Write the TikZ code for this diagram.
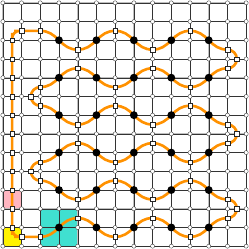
\documentclass[tikz,border=0pt]{standalone}
\usetikzlibrary{backgrounds}

\definecolor{snakeorange}{RGB}{255,145,0}
\definecolor{tealfill}{RGB}{64,224,208}
\definecolor{tealedge}{RGB}{30,140,128}
\definecolor{pinkfill}{RGB}{255,182,193}

\begin{document}
\begin{tikzpicture}[
            site/.style={circle, draw=black!85, fill=white, line width=0.5pt,
                         inner sep=0pt, minimum size=0.22cm},
            hub/.style={circle, fill=black, inner sep=0pt, minimum size=0.42cm},
            mid/.style={rectangle, draw=black!85, fill=white, line width=0.5pt,
                        inner sep=0pt, minimum size=0.24cm},
            gline/.style={gray!50, line width=1.4pt},
            dline/.style={black!80, line width=0.5pt},
            snake/.style={snakeorange, line width=4pt},
            turn/.style={snake, rounded corners=0.4cm}
        ]
        \useasboundingbox (-0.15, 0.15) rectangle (13.15, -13.15);

        % lattice sites, black hubs on odd columns / even rows
        \foreach \i in {0,...,13}
            \foreach \j in {0,...,13} {
                \pgfmathtruncatemacro{\isb}{(mod(\i,2)==1)*(\i>2)*(\i<12)*(mod(\j,2)==0)*(\j>1)*(\j<13)}
                \ifnum\isb=1
                    \node[hub] (v-\i-\j) at (\i, -\j) {};
                \else
                    \node[site] (v-\i-\j) at (\i, -\j) {};
                \fi
            }

        % squares on the wavy rows
        \foreach \y in {4,8,...,24}
            \foreach \x in {4,8,...,24} {
                \pgfmathtruncatemacro{\sy}{\y + (mod(\y/4,2)==1 ? 1 : -1)*(mod(\x,8)==0 ? 1 : -1)}
                \node[mid] (s-\x-\sy) at (\x/2, -\sy/2) {};
            }

        % squares on the turns and the left column
        \foreach \y in {4,6,...,24}
            \node[mid] (s-1-\y) at (0.5, -\y/2) {};
        \foreach \x/\y in {2/3, 2/25, 25/6, 25/14, 25/22, 3/10, 3/18}
            \node[mid] (s-\x-\y) at (\x/2, -\y/2) {};

        \begin{scope}[on background layer]
            % coloured cells
            \fill[yellow, draw=black!80, line width=0.6pt] (v-0-12.center) rectangle (v-1-13.center);
            \fill[pinkfill, draw=gray!70, line width=0.6pt] (v-0-10.center) rectangle (v-1-11.center);
            \fill[tealfill, draw=tealedge, line width=0.6pt] (v-2-11.center) rectangle (v-4-13.center);

            % grid
            \foreach \k in {0,...,13} {
                \draw[gline] (v-0-\k.center) -- (v-13-\k.center);
                \draw[gline] (v-\k-0.center) -- (v-\k-13.center);
            }
            \foreach \k in {0,...,13} {
                \draw[dline] (v-0-\k.center) -- (v-13-\k.center);
                \draw[dline] (v-\k-0.center) -- (v-\k-13.center);
            }

            % wavy rows
            \foreach \y in {4,8,...,24}
                \foreach \x in {4,8,...,20} {
                    \pgfmathtruncatemacro{\sg}{(mod(\y/4,2)==1 ? 1 : -1)*(mod(\x,8)==0 ? 1 : -1)}
                    \pgfmathtruncatemacro{\ya}{\y + \sg}
                    \pgfmathtruncatemacro{\yb}{\y - \sg}
                    \pgfmathtruncatemacro{\xb}{\x + 4}
                    \pgfmathtruncatemacro{\c}{(\x + 2)/2}
                    \pgfmathtruncatemacro{\r}{\y/2}
                    \pgfmathtruncatemacro{\ain}{180 + 45*\sg}
                    \pgfmathtruncatemacro{\aout}{45*\sg}
                    \draw[snake] (s-\x-\ya.center) to[out=0, in=\ain] (v-\c-\r.center)
                        to[out=\aout, in=180] (s-\xb-\yb.center);
                }

            % turns on the right
            \foreach \y in {6,14,22} {
                \pgfmathtruncatemacro{\ya}{\y - 1}
                \pgfmathtruncatemacro{\yb}{\y + 1}
                \draw[snake] (s-24-\ya.center) to[out=0, in=90] (s-25-\y.center)
                    to[out=-90, in=0] (s-24-\yb.center);
            }

            % turns on the left
            \foreach \y in {10,18} {
                \pgfmathtruncatemacro{\ya}{\y - 1}
                \pgfmathtruncatemacro{\yb}{\y + 1}
                \draw[snake] (s-4-\ya.center) to[out=180, in=90] (s-3-\y.center)
                    to[out=-90, in=180] (s-4-\yb.center);
            }

            % return along the left column
            \draw[turn] (s-4-3.center) -- (s-2-3.center) -| (s-1-4.center)
                -- (s-1-24.center) |- (s-2-25.center) -- (s-4-25.center);
        \end{scope}
\end{tikzpicture}
\end{document}
